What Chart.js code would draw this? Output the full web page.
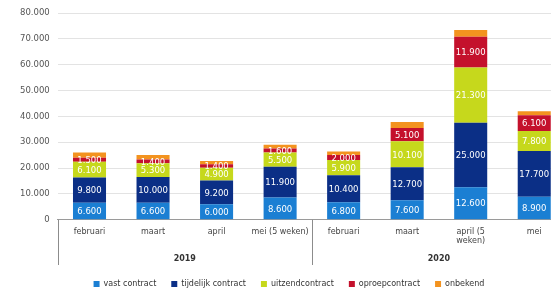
<!DOCTYPE html>
<html lang="nl">
<head>
  <meta charset="UTF-8">
  <title>Contractvormen 2019-2020</title>
  <script src="https://cdn.jsdelivr.net/npm/chart.js"></script>
  <style>
    html, body { margin: 0; padding: 0; background: #fff; overflow: hidden; }
    /* the original picture is cut off at the right edge, so the canvas is wider than the window */
    #wrap { width: 578px; height: 292px; }
  </style>
</head>
<body>
  <div id="wrap"><canvas id="chart" width="578" height="292"></canvas></div>

  <script>
    // Categories (maand) and year groups
    var months = ['februari', 'maart', 'april', 'mei (5 weken)', 'februari', 'maart', ['april (5', 'weken)'], 'mei'];
    var years = ['2019', '2020'];

    // Series values
    var vastContract = [6600, 6600, 6000, 8600, 6800, 7600, 12600, 8900];
    var tijdelijkContract = [9800, 10000, 9200, 11900, 10400, 12700, 25000, 17700];
    var uitzendContract = [6100, 5300, 4900, 5500, 5900, 10100, 21300, 7800];
    var oproepContract = [1500, 1400, 1400, 1600, 2000, 5100, 11900, 6100];
    var onbekend = [2000, 1800, 1300, 1400, 1300, 2400, 2700, 1500];

    var seriesNames = ['vast contract', 'tijdelijk contract', 'uitzendcontract', 'oproepcontract', 'onbekend'];
    var seriesColors = ['#1b7fd3', '#0b2f86', '#c6d81c', '#c4112c', '#f3931f'];

    // thousands separator with a dot
    function fmt(v) {
      return String(v).replace(/\B(?=(\d{3})+(?!\d))/g, '.');
    }

    var FONT = '"DejaVu Sans", Verdana, sans-serif';

    // white value labels inside the segments (not for "onbekend")
    var valueLabels = {
      id: 'valueLabels',
      afterDatasetsDraw: function(chart) {
        var ctx = chart.ctx;
        ctx.save();
        ctx.font = '8.5px ' + FONT;
        ctx.fillStyle = '#ffffff';
        ctx.textAlign = 'center';
        ctx.textBaseline = 'middle';
        chart.data.datasets.forEach(function(ds, di) {
          if (di === 4) return;
          var meta = chart.getDatasetMeta(di);
          meta.data.forEach(function(el, i) {
            ctx.fillText(fmt(ds.data[i]), el.x, (el.y + el.base) / 2 + 1);
          });
        });
        ctx.restore();
      }
    };

    // separator lines between the year groups
    var yearLines = {
      id: 'yearLines',
      afterDraw: function(chart) {
        var x = chart.scales.x;
        var mid = (x.getPixelForValue(3) + x.getPixelForValue(4)) / 2;
        var ctx = chart.ctx;
        ctx.save();
        ctx.strokeStyle = '#8c8c8c';
        ctx.lineWidth = 1;
        [x.left, mid, x.right].forEach(function(px) {
          ctx.beginPath();
          ctx.moveTo(Math.round(px) + 0.5, x.top);
          ctx.lineTo(Math.round(px) + 0.5, x.bottom + 12);
          ctx.stroke();
        });
        ctx.restore();
      }
    };

    var datasets = [vastContract, tijdelijkContract, uitzendContract, oproepContract, onbekend].map(function(d, i) {
      return {
        label: seriesNames[i],
        data: d,
        backgroundColor: seriesColors[i],
        borderWidth: 0,
        barPercentage: 0.52,
        categoryPercentage: 1.0
      };
    });

    new Chart(document.getElementById('chart'), {
      type: 'bar',
      data: { labels: months, datasets: datasets },
      options: {
        responsive: false,
        animation: false,
        layout: { padding: { left: 12, right: 12, top: 12, bottom: -6 } },
        plugins: {
          legend: {
            position: 'bottom',
            labels: {
              boxWidth: 6,
              boxHeight: 6,
              padding: 15,
              color: '#333',
              font: { family: FONT, size: 8 }
            }
          },
          tooltip: { enabled: false }
        },
        scales: {
          x: {
            stacked: true,
            grid: { display: false, drawTicks: false },
            border: { display: true, color: '#9a9a9a' },
            ticks: {
              color: '#444',
              padding: 7,
              maxRotation: 0,
              autoSkip: false,
              font: { family: FONT, size: 8 }
            }
          },
          year: {
            type: 'category',
            labels: years,
            position: 'bottom',
            offset: true,
            grid: { display: false, drawTicks: false },
            border: { display: false },
            ticks: {
              color: '#333',
              padding: 0,
              font: { family: FONT, size: 8, weight: 'bold', lineHeight: 1.5 }
            }
          },
          y: {
            stacked: true,
            min: 0,
            max: 80000,
            ticks: {
              stepSize: 10000,
              color: '#555',
              padding: 8,
              font: { family: FONT, size: 8.5 },
              callback: function(v) { return fmt(v); }
            },
            grid: { color: '#e3e3e3', drawTicks: false },
            border: { display: false }
          }
        }
      },
      plugins: [valueLabels, yearLines]
    });
  </script>
</body>
</html>
